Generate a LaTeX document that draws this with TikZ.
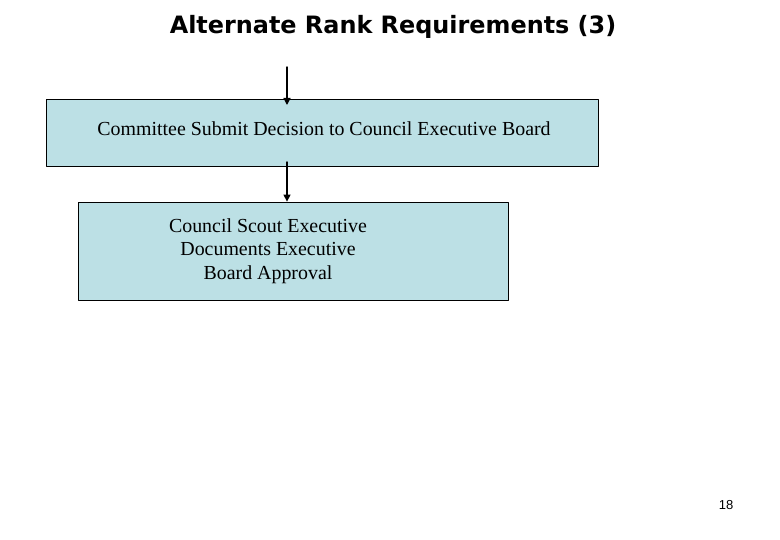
\documentclass[tikz,border=0pt]{standalone}
\usepackage{fontspec}
\setmainfont{Liberation Serif}
\newfontfamily\titlefont{DejaVu Sans}
\newfontfamily\pagefont{Liberation Sans}
\usepackage{xcolor}
\usetikzlibrary{arrows.meta}
\definecolor{boxblue}{RGB}{188,224,229}

\begin{document}
\begin{tikzpicture}[line cap=round,line join=round,x=1pt,y=-1pt,
    box/.style={draw=black,fill=boxblue,line width=0.8pt,inner sep=0pt},
    flow/.style={-{Triangle[length=7pt,width=7pt]},line width=1.4pt},
    body/.style={font=\fontsize{19.9}{23.5}\selectfont,align=center,inner sep=0pt}]
                \useasboundingbox (0,0) rectangle (780,540);
                \node[font=\titlefont\bfseries\fontsize{23.9}{28}\selectfont] (title) at (393,27) {Alternate Rank Requirements (3)};
                \node[box,minimum width=552pt,minimum height=67pt] (submit) at (322,132.5) {};
                \node[box,minimum width=430pt,minimum height=98pt] (approve) at (293,251) {};
                \node[body] (submittext) at (324,129) {Committee Submit Decision to Council Executive Board};
                \node[body] (approvetext) at (268,251) {Council Scout Executive\\Documents Executive\\Board Approval};
                \coordinate (start) at (287,67);
                \coordinate (stop) at (287,105);
                \coordinate (leave) at (287,162);
                \draw [flow] (start) -- (stop);
                \draw [flow] (leave) -- (leave |- approve.north);
                \node[font=\pagefont\fontsize{13}{15}\selectfont] (page) at (726,505) {18};
            \end{tikzpicture}
\end{document}
